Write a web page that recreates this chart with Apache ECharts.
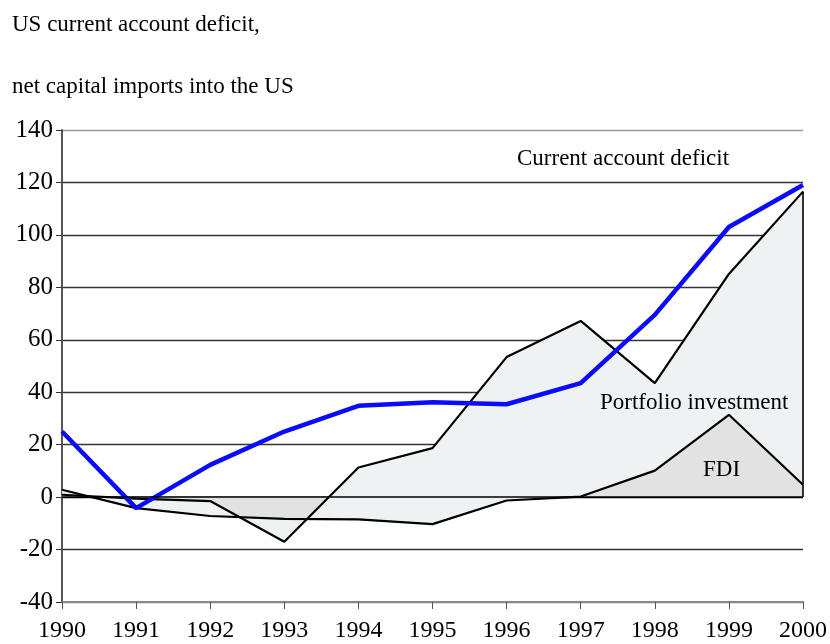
<!DOCTYPE html>
<html>
<head>
<meta charset="utf-8">
<script src="https://cdn.jsdelivr.net/npm/echarts@6/dist/echarts.min.js"></script>
<style>
  html, body { margin: 0; padding: 0; background: #fff; }
  #container { width: 830px; height: 644px; }
</style>
</head>
<body>
<div id="container"></div>
<script>
var years = [1990, 1991, 1992, 1993, 1994, 1995, 1996, 1997, 1998, 1999, 2000];
var currentAccount = [25, -4.2, 12.3, 25, 34.8, 36.2, 35.4, 43.5, 69.5, 103, 119];
var portfolio = [0.9, -0.6, -1.5, -17, 11.3, 18.7, 53.4, 67.2, 43.5, 85.1, 116.5];
var fdi = [2.8, -4.2, -7.2, -8.3, -8.5, -10.3, -1.3, 0.2, 10.1, 31.4, 4.7];
var yTicks = [-40, -20, 0, 20, 40, 60, 80, 100, 120, 140];

var serif = 'Liberation Serif';
var lightFill = '#eef2f3';
var darkFill = '#e2e2e2';

function pairs(xs, vs) {
    return xs.map(function (x, i) { return [x, vs[i]]; });
}

/** area where both series lie on the same side of zero */
function overlap(xs, a, b) {
    var out = [];
    function o(p, f) {
        if (p * f <= 0) return 0;
        return p > 0 ? Math.min(p, f) : Math.max(p, f);
    }
    for (var i = 0; i < xs.length - 1; i++) {
        var p0 = a[i], p1 = a[i + 1], f0 = b[i], f1 = b[i + 1];
        var ts = [0];
        [[p0, p1], [f0, f1], [p0 - f0, p1 - f1]].forEach(function (pr) {
            var d = pr[0] - pr[1];
            if (d !== 0) {
                var t = pr[0] / d;
                if (t > 0 && t < 1) ts.push(t);
            }
        });
        ts.sort(function (x, y) { return x - y; });
        ts.forEach(function (t) {
            out.push([xs[i] + t * (xs[i + 1] - xs[i]),
                o(p0 + t * (p1 - p0), f0 + t * (f1 - f0))]);
        });
    }
    var n = xs.length - 1;
    out.push([xs[n], o(a[n], b[n])]);
    return out;
}

function textItem(str, x, y) {
    return {
        type: 'text', left: x, top: y, z: 20,
        style: { text: str, fontFamily: serif, fontSize: 23, fill: '#000' }
    };
}

var myChart = echarts.init(document.getElementById('container'));

var gridColors = yTicks.map(function (v, i) {
    if (i === 0 || i === yTicks.length - 1) return '#999';
    if (v === 0) return '#000';
    return '#333';
});

var option = {
    backgroundColor: '#fff',
    animation: false,
    grid: { left: 62, right: 27, top: 130, bottom: 42 },
    xAxis: {
        type: 'value',
        min: years[0],
        max: years[years.length - 1],
        interval: 1,
        axisLine: { show: true, onZero: false, lineStyle: { color: '#888', width: 2 } },
        axisTick: { show: true, length: 7, lineStyle: { color: '#555' } },
        axisLabel: {
            fontFamily: serif, fontSize: 24, color: '#000', margin: 17,
            formatter: function (v) { return String(v); }
        },
        splitLine: { show: false }
    },
    yAxis: {
        type: 'value',
        min: yTicks[0],
        max: yTicks[yTicks.length - 1],
        interval: 20,
        axisLine: { show: true, lineStyle: { color: '#555', width: 2 } },
        axisTick: { show: true, length: 6, lineStyle: { color: '#333' } },
        axisLabel: { fontFamily: serif, fontSize: 25, color: '#000', margin: 9 },
        splitLine: { show: true, lineStyle: { color: gridColors, width: 1.3 } }
    },
    graphic: [
        textItem('US current account deficit,', 12, 13),
        textItem('net capital imports into the US', 12, 75),
        textItem('Current account deficit', 517, 147),
        textItem('Portfolio investment', 600, 391),
        textItem('FDI', 703, 458)
    ],
    series: [
        {
            type: 'line', name: 'Portfolio area', z: 1, symbol: 'none', silent: true,
            data: pairs(years, portfolio),
            lineStyle: { width: 0 },
            areaStyle: { color: lightFill, opacity: 1 }
        },
        {
            type: 'line', name: 'FDI area', z: 1, symbol: 'none', silent: true,
            data: pairs(years, fdi),
            lineStyle: { width: 0 },
            areaStyle: { color: lightFill, opacity: 1 }
        },
        {
            type: 'line', name: 'Overlap', z: 2, symbol: 'none', silent: true,
            data: overlap(years, portfolio, fdi),
            lineStyle: { width: 0 },
            areaStyle: { color: darkFill, opacity: 1 },
            markLine: {
                silent: true, symbol: 'none', label: { show: false },
                lineStyle: { color: '#000', width: 1.6, type: 'solid' },
                data: [
                    { yAxis: 0 },
                    [{ coord: [years[10], 0] }, { coord: [years[10], portfolio[10]] }]
                ]
            }
        },
        {
            type: 'line', name: 'Portfolio investment', z: 3, symbol: 'none',
            data: pairs(years, portfolio),
            lineStyle: { color: '#000', width: 2.2 }
        },
        {
            type: 'line', name: 'FDI', z: 3, symbol: 'none',
            data: pairs(years, fdi),
            lineStyle: { color: '#000', width: 2.2 }
        },
        {
            type: 'line', name: 'Current account deficit', z: 4, symbol: 'none',
            data: pairs(years, currentAccount),
            lineStyle: { color: '#0a0aff', width: 4.5 }
        }
    ]
};

myChart.setOption(option);
</script>
</body>
</html>
